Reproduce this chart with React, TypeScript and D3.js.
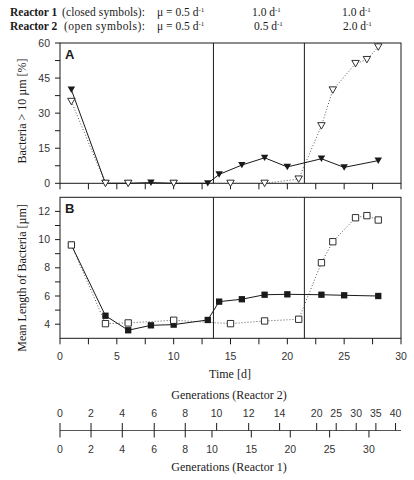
import React from "react";
import * as d3 from "d3";

// ---- data ----
const daysR1 = [1, 4, 6, 8, 10, 13, 14, 16, 18, 20, 23, 25, 28];
const pctR1 = [40, 0, 0, 0.3, 0, 0, 3.8, 7.8, 10.9, 7.0, 10.5, 6.8, 9.7];
const lenR1 = [9.62, 4.6, 3.57, 3.92, 3.97, 4.3, 5.6, 5.77, 6.09, 6.12, 6.09, 6.05, 6.0];

const daysR2 = [1, 4, 6, 10, 15, 18, 21, 23, 24, 26, 27, 28];
const pctR2 = [35, 0, 0, 0, 0, 0, 1.8, 24.6, 39.9, 51.2, 52.9, 58.3];
const lenR2 = [9.62, 4.04, 4.09, 4.28, 4.04, 4.23, 4.35, 8.36, 9.85, 11.55, 11.7, 11.39];

const switchDays = [13.5, 21.5];

const timeTicks = [0, 5, 10, 15, 20, 25, 30];
const pctTicks = [0, 15, 30, 45, 60];
const lenTicks = [4, 6, 8, 10, 12];

const gen2Labels = [0, 2, 4, 6, 8, 10, 12, 14, 20, 25, 30, 35, 40];
const gen2Days = [0, 2.73, 5.48, 8.29, 11.02, 13.78, 16.6, 19.32, 22.58, 24.3, 26.06, 27.79, 29.52];
const gen1Labels = [0, 2, 4, 6, 8, 10, 15, 20, 25, 30];
const gen1Days = [0, 2.73, 5.48, 8.29, 11.02, 13.37, 16.83, 20.26, 23.72, 27.18];

const SERIF = "'Liberation Serif', 'Times New Roman', serif";
const SANS = "'Liberation Sans', Arial, sans-serif";
const INK = "#1a1a1a";

const x = d3.scaleLinear().domain([0, 30]).range([60, 401]);
const yA = d3.scaleLinear().domain([0, 60]).range([183.3, 43]);
const yB = d3.scaleLinear().domain([3, 13]).range([338.3, 197.3]);

const triDown = d3.symbol(d3.symbolTriangle, 24)();
const square = d3.symbol(d3.symbolSquare, 40)();

function Panel({
  y, yTicks, minorY, v1, v2, marker, letter, title, titleY, showXLabels, triangle,
}: any) {
  const [y0, y1] = y.range();
  const line1 = d3.line<number>().x((_, i) => x(daysR1[i])).y((v) => y(v));
  const line2 = d3.line<number>().x((_, i) => x(daysR2[i])).y((v) => y(v));
  const minorX = d3.range(0, 30.01, 2.5);
  const rot = triangle ? "rotate(180)" : "";
  return (
    <g>
      {/* frame */}
      <rect x={x(0)} y={y1} width={x(30) - x(0)} height={y0 - y1} fill="none" stroke={INK} strokeWidth={1} />
      {/* switch lines */}
      {switchDays.map((d) => (
        <line key={d} x1={x(d)} x2={x(d)} y1={y1} y2={y0} stroke={INK} strokeWidth={1} />
      ))}
      {/* y ticks */}
      {minorY.map((t: number) => (
        <line key={"my" + t} x1={x(0) - 5} x2={x(0)} y1={y(t)} y2={y(t)} stroke={INK} />
      ))}
      {yTicks.map((t: number) => (
        <text key={"yl" + t} x={x(0) - 10} y={y(t)} dy="0.35em" textAnchor="end" fontFamily={SANS} fontSize={10.5} fill="#333">
          {t}
        </text>
      ))}
      {/* x ticks */}
      {minorX.map((t) => (
        <line key={"mx" + t} x1={x(t)} x2={x(t)} y1={y0} y2={y0 + 6} stroke={INK} />
      ))}
      {showXLabels &&
        timeTicks.map((t) => (
          <text key={"xl" + t} x={x(t)} y={y0 + 18} dy="0.35em" textAnchor="middle" fontFamily={SANS} fontSize={10.5} fill="#333">
            {t}
          </text>
        ))}
      {/* lines */}
      <path d={line2(v2) as string} fill="none" stroke="#555" strokeWidth={1} strokeDasharray="1,2" />
      <path d={line1(v1) as string} fill="none" stroke={INK} strokeWidth={1} />
      {/* markers */}
      {v1.map((v: number, i: number) => (
        <path key={"c" + i} d={marker} transform={`translate(${x(daysR1[i])},${y(v) - (triangle ? 1 : 0)}) ${rot}`} fill={INK} />
      ))}
      {v2.map((v: number, i: number) => (
        <path key={"o" + i} d={marker} transform={`translate(${x(daysR2[i])},${y(v) - (triangle ? 1 : 0)}) ${rot}`} fill="#fff" stroke={INK} strokeWidth={0.9} />
      ))}
      {/* letter */}
      <text x={65} y={y1 + 16} fontFamily={SANS} fontWeight="bold" fontSize={13} fill={INK}>
        {letter}
      </text>
      {/* y title */}
      <text transform={`translate(26,${titleY}) rotate(-90)`} textAnchor="middle" fontFamily={SERIF} fontSize={12} fill={INK}>
        {title}
      </text>
    </g>
  );
}

function Mu({ xPos, yPos, label }: { xPos: number; yPos: number; label: string }) {
  return (
    <text x={xPos} y={yPos} fontFamily={SERIF} fontSize={11.5} fill={INK}>
      {label}
      <tspan dy={-4} fontSize={7}>-1</tspan>
    </text>
  );
}

export default function App() {
  const minorA = d3.range(0, 60.01, 7.5);
  const minorB = d3.range(4, 12.01, 1);
  const genY = 430.5;
  return (
    <svg width={414} height={480} style={{ position: "absolute", left: 0, top: 0, background: "#fff" }}>
      {/* header */}
      <text x={10} y={16} fontFamily={SERIF} fontSize={11.5} fill={INK} fontWeight="bold">Reactor 1</text>
      <text x={62} y={16} fontFamily={SERIF} fontSize={11.5} fill={INK} textLength={83} lengthAdjust="spacing">(closed symbols):</text>
      <Mu xPos={157} yPos={16} label="μ = 0.5 d" />
      <Mu xPos={252} yPos={16} label="1.0 d" />
      <Mu xPos={342} yPos={16} label="1.0 d" />
      <text x={10} y={30} fontFamily={SERIF} fontSize={11.5} fill={INK} fontWeight="bold">Reactor 2</text>
      <text x={64} y={30} fontFamily={SERIF} fontSize={11.5} fill={INK} textLength={81} lengthAdjust="spacing">(open symbols):</text>
      <Mu xPos={157} yPos={30} label="μ = 0.5 d" />
      <Mu xPos={254} yPos={30} label="0.5 d" />
      <Mu xPos={343} yPos={30} label="2.0 d" />

      <Panel y={yA} yTicks={pctTicks} minorY={minorA} v1={pctR1} v2={pctR2} marker={triDown} triangle
        letter="A" title="Bacteria > 10 µm [%]" titleY={111} showXLabels={false} />
      <Panel y={yB} yTicks={lenTicks} minorY={minorB} v1={lenR1} v2={lenR2} marker={square}
        letter="B" title="Mean Length of Bacteria [µm]" titleY={278} showXLabels />

      <text x={230} y={378} textAnchor="middle" fontFamily={SERIF} fontSize={12} fill={INK}>Time [d]</text>

      {/* generations axis */}
      <text x={229} y={399} textAnchor="middle" fontFamily={SERIF} fontSize={12} fill={INK}>Generations (Reactor 2)</text>
      <line x1={x(0)} x2={x(30)} y1={genY} y2={genY} stroke="#555" strokeWidth={1} />
      {gen2Labels.map((g, i) => (
        <g key={"g2" + g}>
          <line x1={x(gen2Days[i])} x2={x(gen2Days[i])} y1={genY - 7.5} y2={genY} stroke={INK} />
          <text x={x(gen2Days[i])} y={413} dy="0.35em" textAnchor="middle" fontFamily={SANS} fontSize={10.5} fill="#333">{g}</text>
        </g>
      ))}
      {gen1Labels.map((g, i) => (
        <g key={"g1" + g}>
          <line x1={x(gen1Days[i])} x2={x(gen1Days[i])} y1={genY} y2={genY + 7} stroke={INK} />
          <text x={x(gen1Days[i])} y={449} dy="0.35em" textAnchor="middle" fontFamily={SANS} fontSize={10.5} fill="#333">{g}</text>
        </g>
      ))}
      <text x={229} y={471} textAnchor="middle" fontFamily={SERIF} fontSize={12} fill={INK}>Generations (Reactor 1)</text>
    </svg>
  );
}
